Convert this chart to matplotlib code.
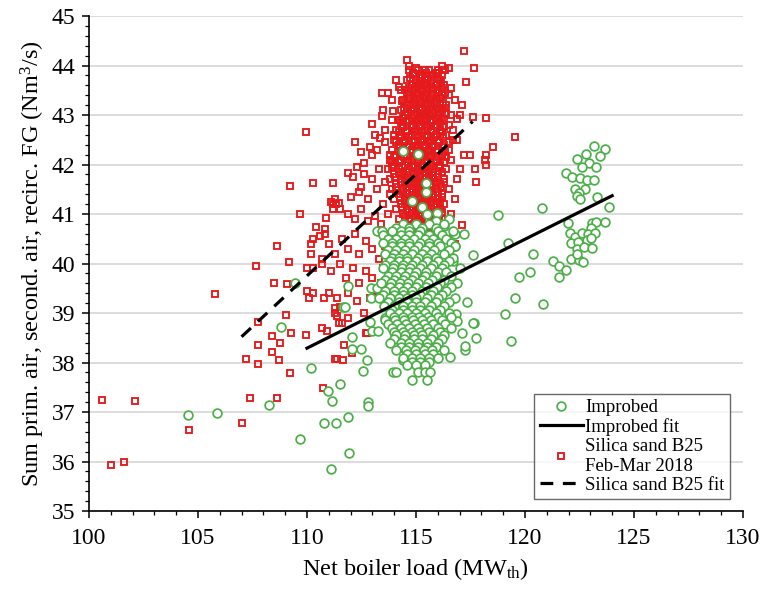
import numpy as np
import matplotlib
matplotlib.use("Agg")
import matplotlib.pyplot as plt
from matplotlib.ticker import MultipleLocator

plt.rcParams["font.family"] = ["Liberation Serif", "DejaVu Serif"]
plt.rcParams["mathtext.fontset"] = "custom"
plt.rcParams["mathtext.rm"] = "Liberation Serif"
plt.rcParams["mathtext.it"] = "Liberation Serif:italic"

RED = "#e41a1c"
GREEN = "#4daf4a"

# --- Silica sand B25, Feb-Mar 2018: scattered low-load points ---
silica_outer = [
    (100.6, 37.25), (101.0, 35.93), (101.6, 36.0), (102.1, 37.22), (104.6, 36.63),
    (105.8, 39.38), (107.0, 36.77), (107.2, 38.08), (107.4, 37.28), (107.65, 39.94),
    (107.75, 38.82), (107.77, 38.35), (107.75, 37.98), (108.4, 38.54), (108.4, 38.22),
    (108.49, 39.6), (108.62, 37.28), (108.64, 40.35), (108.73, 38.05), (108.76, 38.39),
    (109.04, 38.96), (109.1, 39.59), (109.19, 40.04), (109.22, 41.57), (109.22, 37.79),
    (109.27, 38.6), (109.66, 41.0), (109.94, 42.65), (109.95, 38.55), (110.0, 39.9),
    (110.0, 39.45), (110.1, 39.3), (110.3, 39.4), (110.29, 41.63), (110.4, 40.73),
    (110.2, 40.4), (110.2, 40.2), (110.3, 40.5), (110.3, 39.9), (110.67, 38.69),
    (110.72, 37.48), (110.7, 40.1), (110.7, 40.0), (110.8, 39.3), (110.87, 40.92),
    (110.85, 40.7), (110.85, 40.6), (110.9, 38.64), (111.0, 39.4), (111.18, 41.63),
    (111.1, 41.25), (111.2, 41.2), (111.3, 41.3), (111.35, 41.2), (111.45, 41.22),
    (111.3, 39.1), (111.28, 38.08), (111.36, 38.08), (111.4, 39.3), (111.3, 39.0),
    (111.45, 38.8), (111.67, 38.06), (111.7, 38.35), (111.87, 38.9), (112.05, 38.2),
    (112.6, 39.0), (112.7, 38.59), (112.75, 38.6), (113.4, 39.6), (113.6, 39.3),
    (113.7, 39.35), (113.6, 38.85), (111.4, 38.93), (111.6, 38.79), (111.5, 39.13),
]

# --- Silica sand: medium-density band and upper/right fringe ---
silica_mid = [
    (111.2, 41.1), (111.5, 41.1), (111.9, 41.0), (112.2, 40.9), (112.5, 41.1),
    (112.8, 40.85), (113.1, 40.95), (113.4, 40.8), (113.6, 40.6), (110.6, 40.55),
    (111.0, 40.4), (111.3, 40.2), (111.6, 40.5), (111.9, 40.3), (112.2, 40.6),
    (112.4, 40.2), (112.7, 40.45), (113.0, 40.3), (113.3, 40.1), (113.6, 40.35),
    (113.9, 40.5), (111.1, 39.85), (111.5, 40.0), (111.8, 39.7), (112.1, 39.9),
    (112.4, 39.6), (112.7, 39.85), (113.0, 39.7), (113.2, 39.45), (113.5, 39.9),
    (113.8, 39.7), (114.1, 39.5), (111.9, 39.4), (112.3, 39.25), (112.9, 39.3),
    (112.0, 41.35), (112.4, 41.45), (112.8, 41.3), (113.2, 41.5), (113.5, 41.2),
    (113.8, 41.4), (113.7, 41.0), (112.1, 41.75), (112.6, 41.8), (113.0, 41.7),
    (113.3, 41.9), (113.6, 41.65), (113.9, 42.05), (111.9, 41.82), (112.5, 41.55),
    (112.2, 42.46), (112.28, 41.96), (112.6, 42.03), (112.9, 42.36), (113.0, 42.2),
    (113.0, 42.82), (113.35, 42.54), (113.43, 43.44), (113.43, 42.98), (113.7, 43.45),
    (113.9, 42.9), (113.96, 43.09), (114.2, 42.9), (114.23, 43.57), (114.34, 43.29),
    (112.5, 42.25), (113.2, 42.3), (113.6, 42.45), (113.8, 42.2), (113.1, 42.6),
    (113.6, 42.7), (114.0, 42.6), (113.5, 43.1), (113.9, 43.3), (114.1, 43.7),
    (114.3, 43.5), (114.57, 44.12), (114.7, 44.0), (115.0, 43.95), (115.4, 43.9),
    (115.9, 43.85), (116.2, 44.0), (116.5, 43.95), (116.35, 43.9), (117.2, 44.3),
    (117.67, 43.96), (117.28, 43.66), (116.6, 43.55), (116.8, 43.3), (117.1, 43.2),
    (116.9, 42.92), (117.6, 42.97), (118.2, 42.93), (119.54, 42.56), (118.55, 42.35),
    (118.2, 42.2), (118.15, 42.1), (118.2, 42.0), (117.7, 41.9), (117.75, 41.64),
    (117.5, 42.2), (117.2, 42.2), (117.0, 41.9), (116.9, 41.7), (116.8, 41.3),
    (116.6, 41.0), (117.1, 40.78), (116.7, 40.6), (116.9, 42.5), (116.7, 42.7),
    (117.0, 43.0), (116.8, 40.4), (114.2, 40.2), (114.4, 39.9), (114.6, 39.6),
    (114.0, 40.0), (114.6, 40.3), (113.8, 40.34), (114.9, 39.3), (115.0, 39.1),
]

# --- Silica sand: dense core around 115-116 MW, listed row by row ---
silica_core_levels = [
    43.9, 43.8, 43.7, 43.6, 43.5, 43.4, 43.3, 43.2, 43.1, 43.0, 42.9, 42.8,
    42.7, 42.6, 42.5, 42.4, 42.3, 42.2, 42.1, 42.0, 41.9, 41.8, 41.7, 41.6,
    41.5, 41.4, 41.3, 41.2, 41.1, 41.0, 40.9, 40.8, 40.7, 40.6, 40.5, 40.4,
    40.3, 40.2, 40.0, 39.8, 39.6,
]
silica_core_loads = [
    [114.7, 115.1, 115.6, 116.0],
    [114.9, 115.3, 115.8, 116.2],
    [114.6, 115.0, 115.4, 115.7, 116.1],
    [114.8, 115.2, 115.5, 115.9, 116.3],
    [114.5, 114.9, 115.3, 115.6, 116.0],
    [114.7, 115.1, 115.4, 115.8, 116.2, 116.5],
    [114.4, 114.9, 115.2, 115.6, 115.9],
    [114.6, 115.0, 115.4, 115.7, 116.1, 116.4],
    [114.3, 114.8, 115.2, 115.5, 115.8, 116.2],
    [114.5, 114.9, 115.3, 115.6, 116.0, 116.6],
    [114.2, 114.7, 115.1, 115.4, 115.8, 116.3],
    [114.4, 114.8, 115.2, 115.5, 115.9, 116.5],
    [114.1, 114.6, 115.0, 115.4, 115.7, 116.1],
    [114.3, 114.8, 115.1, 115.5, 115.9, 116.4],
    [114.0, 114.5, 114.9, 115.3, 115.7, 116.0, 116.7],
    [114.2, 114.7, 115.1, 115.4, 115.8, 116.3],
    [113.9, 114.4, 114.8, 115.2, 115.6, 116.0, 116.5],
    [114.1, 114.6, 115.0, 115.4, 115.7, 116.2],
    [113.8, 114.3, 114.8, 115.1, 115.5, 115.9, 116.6],
    [114.0, 114.5, 114.9, 115.3, 115.7, 116.1],
    [113.7, 114.2, 114.7, 115.1, 115.5, 115.8, 116.4],
    [114.0, 114.4, 114.9, 115.2, 115.6, 116.0],
    [113.8, 114.3, 114.7, 115.0, 115.4, 115.8, 116.3],
    [114.1, 114.5, 114.9, 115.3, 115.7, 116.1],
    [113.9, 114.4, 114.8, 115.2, 115.5, 115.9, 116.5],
    [114.2, 114.6, 115.0, 115.4, 115.8, 116.2],
    [114.0, 114.5, 114.9, 115.2, 115.6, 116.0],
    [114.3, 114.7, 115.1, 115.5, 115.9, 116.3],
    [114.1, 114.6, 115.0, 115.3, 115.7, 116.1],
    [114.4, 114.8, 115.2, 115.6, 116.0],
    [114.2, 114.7, 115.1, 115.4, 115.8, 116.2],
    [114.5, 114.9, 115.3, 115.7, 116.0],
    [114.6, 115.0, 115.4, 115.8],
    [114.8, 115.2, 115.6, 116.0],
    [114.9, 115.3, 115.7],
    [115.1, 115.5, 115.9],
    [115.0, 115.4, 115.8],
    [115.2, 115.6],
    [115.3, 115.7],
    [115.4],
    [115.5],
]

# in-between rows of the core, which fill it in solid
silica_fill_levels = [
    43.85, 43.75, 43.65, 43.55, 43.45, 43.35, 43.25, 43.15, 43.05, 42.95,
    42.85, 42.75, 42.65, 42.55, 42.45, 42.35, 42.25, 42.15, 42.05, 41.95,
    41.85, 41.75, 41.65, 41.55, 41.45, 41.35, 41.25, 41.15, 41.05, 40.95,
    40.85, 40.75, 40.65, 40.55, 40.45, 40.35, 40.1, 39.9,
]
silica_fill_loads = [
    [114.85, 115.45, 115.95],
    [114.75, 115.2, 115.55, 116.0],
    [115.0, 115.35, 115.7, 116.15],
    [114.7, 115.1, 115.45, 115.8, 116.2],
    [114.6, 115.0, 115.5, 115.95, 116.35],
    [114.75, 115.05, 115.4, 115.75, 116.1],
    [114.5, 114.85, 115.25, 115.55, 115.95, 116.25],
    [114.45, 114.9, 115.3, 115.65, 116.0, 116.35],
    [114.65, 115.05, 115.4, 115.75, 116.1, 116.4],
    [114.4, 114.8, 115.2, 115.5, 115.9, 116.2],
    [114.3, 114.6, 115.0, 115.35, 115.7, 116.1],
    [114.4, 114.85, 115.2, 115.55, 115.95, 116.3],
    [114.2, 114.55, 114.95, 115.3, 115.7, 116.2],
    [114.3, 114.7, 115.1, 115.5, 115.85, 116.25],
    [114.1, 114.45, 114.9, 115.25, 115.6, 116.05, 116.5],
    [114.25, 114.6, 115.0, 115.35, 115.75, 116.2],
    [114.3, 114.8, 115.2, 115.55, 115.9, 116.35],
    [114.0, 114.45, 114.9, 115.25, 115.6, 116.0, 116.4],
    [114.2, 114.65, 115.1, 115.5, 115.9, 116.3],
    [113.9, 114.35, 114.8, 115.3, 115.65, 116.05],
    [114.2, 114.6, 115.05, 115.4, 115.8, 116.2],
    [114.05, 114.5, 114.85, 115.2, 115.6, 116.0],
    [114.3, 114.7, 115.1, 115.5, 115.9, 116.3],
    [114.1, 114.6, 115.0, 115.35, 115.75, 116.15],
    [114.4, 114.8, 115.2, 115.6, 116.0],
    [114.25, 114.7, 115.1, 115.4, 115.8, 116.2],
    [114.5, 114.9, 115.3, 115.7, 116.1],
    [114.35, 114.8, 115.15, 115.55, 115.95],
    [114.6, 115.0, 115.4, 115.8, 116.2],
    [114.5, 114.95, 115.3, 115.7, 116.05],
    [114.7, 115.1, 115.5, 115.9],
    [114.8, 115.2, 115.6, 116.0],
    [115.0, 115.4, 115.8],
    [115.1, 115.5, 115.9],
    [115.3, 115.7],
    [115.2, 115.6],
    [115.45],
    [115.6],
]

# --- Improbed: scattered points outside the main cluster ---
improbed_outer = [
    (104.55, 36.93), (105.86, 36.99), (108.26, 37.14), (108.81, 38.72), (109.45, 39.6),
    (109.68, 36.45), (110.18, 37.88), (110.77, 36.77), (110.98, 37.43), (111.1, 35.84),
    (111.16, 37.22), (111.32, 36.77), (111.51, 37.57), (111.67, 39.12), (111.9, 39.55),
    (111.9, 36.9), (111.94, 36.18), (111.74, 39.13), (112.05, 38.52), (112.05, 38.27),
    (112.5, 38.27), (112.58, 37.83), (112.74, 38.06), (112.81, 37.2), (112.81, 37.12),
    (112.89, 38.82), (112.95, 39.5), (112.95, 39.3), (113.0, 38.64), (113.27, 38.64),
    (113.58, 38.9), (113.95, 37.8), (114.42, 38.05), (113.2, 39.5),
    (116.56, 38.12), (117.25, 38.25), (117.25, 38.33), (117.74, 38.49), (117.68, 38.79),
    (117.1, 38.6), (116.83, 38.99), (116.9, 38.84), (117.35, 39.22), (117.63, 38.79),
    (117.63, 40.17), (118.78, 40.98), (119.08, 38.99), (119.34, 38.43), (119.54, 39.3),
    (119.23, 40.41), (120.38, 40.19), (119.72, 39.73), (120.23, 39.83), (120.81, 39.18),
    (120.8, 41.12), (116.8, 40.35), (116.9, 39.6), (117.0, 39.9), (117.2, 40.6),
    (116.7, 40.05), (121.27, 40.05), (121.56, 39.94), (121.88, 39.87), (121.57, 39.73),
    (114.42, 42.27), (115.08, 42.21), (115.45, 41.62), (115.45, 41.44), (114.83, 41.27),
    (115.3, 41.15), (115.5, 41.0), (115.98, 41.03), (115.9, 40.85), (116.3, 40.75),
    (116.8, 40.6), (116.5, 40.9),
]

# --- Improbed: high-load group near 122-124 MW ---
improbed_right = [
    (123.18, 42.38), (123.69, 42.31), (122.8, 42.21), (123.44, 42.17), (122.37, 42.11),
    (122.95, 42.04), (122.6, 41.96), (123.28, 41.96), (121.9, 41.82), (122.14, 41.75),
    (122.52, 41.72), (122.83, 41.69), (123.18, 41.69), (122.3, 41.5), (122.75, 41.5),
    (122.48, 41.42), (123.29, 41.35), (122.37, 41.36), (122.52, 41.3), (123.84, 41.14),
    (121.96, 40.82), (123.06, 40.82), (123.28, 40.84), (123.67, 40.84), (123.03, 40.71),
    (122.06, 40.61), (122.29, 40.54), (122.6, 40.61), (122.9, 40.6), (123.2, 40.61),
    (122.1, 40.41), (122.45, 40.44), (122.83, 40.47), (123.01, 40.51), (122.37, 40.29),
    (122.7, 40.34), (123.06, 40.31), (122.11, 40.1), (122.49, 40.07), (122.67, 40.04),
    (122.37, 40.19),
]

# --- Improbed: dense cluster, listed row by row ---
improbed_core_levels = [
    40.8, 40.72, 40.65, 40.57, 40.5, 40.42, 40.35, 40.27, 40.2, 40.12, 40.05,
    39.97, 39.9, 39.82, 39.75, 39.67, 39.6, 39.52, 39.45, 39.37, 39.3, 39.22,
    39.15, 39.07, 39.0, 38.92, 38.85, 38.77, 38.7, 38.62, 38.55, 38.47, 38.4,
    38.32, 38.25, 38.17, 38.1, 38.02, 37.95, 37.8, 37.65,
]
improbed_core_loads = [
    [114.4, 115.0, 115.6, 116.3],
    [114.1, 114.7, 115.3, 115.9],
    [113.2, 113.45, 113.9, 114.3, 114.7, 115.2, 116.0, 116.7],
    [113.5, 114.3, 114.7, 115.1, 115.6, 116.2],
    [113.7, 114.1, 114.5, 114.9, 115.4, 115.8, 116.4],
    [113.5, 113.9, 114.3, 114.7, 115.2, 115.6, 116.0, 116.6],
    [113.9, 114.3, 114.7, 115.1, 115.6, 116.1, 116.8],
    [113.7, 114.1, 114.5, 114.9, 115.4, 115.85, 116.5],
    [113.6, 114.0, 114.4, 114.8, 115.3, 115.7, 116.3],
    [113.9, 114.2, 114.6, 115.1, 115.5, 115.9, 116.7],
    [113.8, 114.2, 114.6, 115.0, 115.5, 116.0, 116.5],
    [113.6, 114.0, 114.4, 114.8, 115.3, 115.8, 116.3],
    [113.5, 113.95, 114.35, 114.75, 115.2, 115.7, 116.2],
    [113.9, 114.3, 114.7, 115.0, 115.45, 116.0, 116.4],
    [113.7, 114.1, 114.5, 114.9, 115.4, 115.9, 116.6],
    [113.6, 114.0, 114.4, 114.8, 115.3, 115.75, 116.3],
    [113.4, 113.85, 114.25, 114.65, 115.1, 115.55, 116.1],
    [113.8, 114.2, 114.6, 115.0, 115.45, 115.95, 116.6],
    [113.6, 114.0, 114.4, 114.8, 115.3, 115.8, 116.4],
    [113.5, 114.0, 114.4, 114.8, 115.2, 115.7, 116.2],
    [113.3, 113.8, 114.2, 114.6, 115.0, 115.5, 116.0, 116.8],
    [113.7, 114.2, 114.6, 115.0, 115.4, 115.9, 116.5],
    [113.55, 114.0, 114.4, 114.8, 115.2, 115.7, 116.3],
    [113.9, 114.4, 114.8, 115.2, 115.6, 116.1],
    [113.8, 114.2, 114.6, 115.0, 115.4, 115.9, 116.5],
    [114.0, 114.4, 114.8, 115.15, 115.55, 116.0, 116.6],
    [113.6, 114.05, 114.45, 114.85, 115.3, 115.7, 116.2],
    [113.7, 114.15, 114.55, 114.95, 115.35, 115.8, 116.35],
    [113.9, 114.3, 114.7, 115.1, 115.5, 116.0, 116.6],
    [114.0, 114.4, 114.8, 115.2, 115.6, 116.1],
    [114.1, 114.5, 114.9, 115.3, 115.8, 116.3],
    [114.0, 114.45, 114.9, 115.3, 115.7, 116.2],
    [113.8, 114.3, 114.7, 115.1, 115.5, 116.0],
    [114.3, 114.7, 115.1, 115.5, 115.9],
    [114.1, 114.55, 114.95, 115.35, 115.75, 116.3],
    [114.6, 115.0, 115.4, 115.8],
    [114.4, 114.8, 115.2, 115.6, 116.0],
    [114.8, 115.2, 115.6],
    [114.6, 115.0, 115.4],
    [114.07, 115.1, 115.41, 115.64],
    [114.84, 115.5],
]

# linear fits (end points of each fitted line)
improbed_fit_x = [110.0, 124.0]
improbed_fit_y = [38.29, 41.37]
silica_fit_x = [107.0, 117.6]
silica_fit_y = [38.52, 42.87]


def rows_to_xy(levels, loads):
    xs, ys = [], []
    for lev, row in zip(levels, loads):
        xs.extend(row)
        ys.extend([lev] * len(row))
    return xs, ys


def pts_to_xy(*groups):
    xs, ys = [], []
    for g in groups:
        xs.extend(p[0] for p in g)
        ys.extend(p[1] for p in g)
    return xs, ys


sx1, sy1 = pts_to_xy(silica_outer, silica_mid)
sx2, sy2 = rows_to_xy(silica_core_levels, silica_core_loads)
sx3, sy3 = rows_to_xy(silica_fill_levels, silica_fill_loads)
silica_x = np.array(sx1 + sx2 + sx3)
silica_y = np.array(sy1 + sy2 + sy3)

ix1, iy1 = pts_to_xy(improbed_outer, improbed_right)
ix2, iy2 = rows_to_xy(improbed_core_levels, improbed_core_loads)
improbed_x = np.array(ix1 + ix2)
improbed_y = np.array(iy1 + iy2)

# ---- figure ----
fig = plt.figure(figsize=(7.63, 5.96), dpi=100, facecolor="white")
ax = fig.add_axes([0.1166, 0.1426, 0.8571, 0.8305])

ax.set_xlim(100, 130)
ax.set_ylim(35, 45)
ax.yaxis.grid(True, color="#d9d9d9", lw=1.3, zorder=0)
ax.set_axisbelow(True)

# hollow squares; overlapping outlines merge into a solid core
SQ = dict(ls="none", marker="s", ms=4.3, mew=1.35, mec=RED, mfc="none")
CI = dict(ls="none", marker="o", ms=6.3, mew=1.25, mec=GREEN, mfc="white")
DASH = (4.0, 3.0)

ax.plot(silica_x, silica_y, zorder=2, **SQ)
ax.plot(improbed_x, improbed_y, zorder=3, **CI)
ax.plot(silica_fit_x, silica_fit_y, color="black", lw=2.3,
        dashes=DASH, zorder=4)
ax.plot(improbed_fit_x, improbed_fit_y, color="black", lw=2.3, zorder=4)

# legend proxies
h1, = ax.plot([], [], **CI)
h2, = ax.plot([], [], color="black", lw=2.3)
h3, = ax.plot([], [], **SQ)
h4, = ax.plot([], [], color="black", lw=2.3, dashes=DASH)
leg = ax.legend([h1, h2, h3, h4],
                ["Improbed", "Improbed fit", "Silica sand B25\nFeb-Mar 2018",
                 "Silica sand B25 fit"],
                loc="lower right", bbox_to_anchor=(0.98, 0.024), borderaxespad=0,
                fontsize=13.5, frameon=True, fancybox=False, labelspacing=0.1,
                handlelength=2.3, handletextpad=0.1, borderpad=0.3)
leg.get_frame().set_edgecolor("#444444")
leg.get_frame().set_linewidth(1.0)

ax.spines["top"].set_visible(False)
ax.spines["right"].set_visible(False)
for s in ("left", "bottom"):
    ax.spines[s].set_linewidth(1.2)
    ax.spines[s].set_color("black")

ax.xaxis.set_major_locator(MultipleLocator(5))
ax.xaxis.set_minor_locator(MultipleLocator(1))
ax.yaxis.set_major_locator(MultipleLocator(1))
ax.yaxis.set_minor_locator(MultipleLocator(0.2))
ax.tick_params(which="major", direction="out", length=5, width=1.1, labelsize=17)
ax.tick_params(which="minor", direction="out", length=3, width=0.9)
ax.tick_params(axis="x", which="major", pad=7)
ax.tick_params(axis="y", which="major", pad=5)

ax.set_xlabel("Net boiler load (MW$_{\\rm th}$)", fontsize=17.5, labelpad=5)
ax.set_ylabel("Sum prim. air, second. air, recirc. FG (Nm$^{3}$/s)", fontsize=17.5,
              labelpad=3)

fig.savefig("out.png", dpi=100, facecolor="white")
